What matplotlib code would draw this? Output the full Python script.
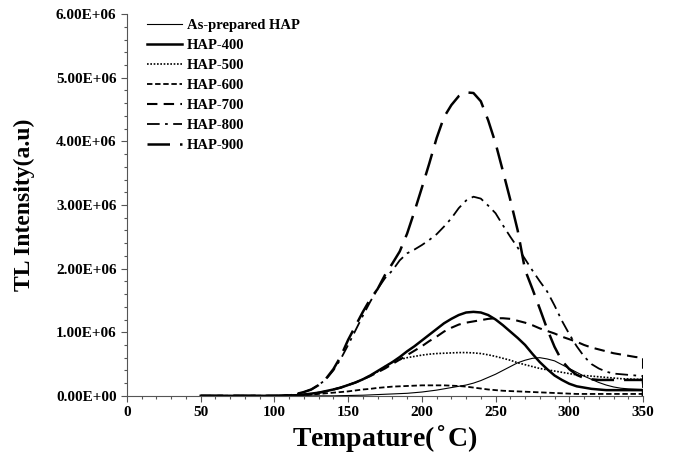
"""TL glow curves of HAP samples annealed at different temperatures."""
import matplotlib
matplotlib.use("Agg")
import matplotlib.pyplot as plt
from matplotlib.ticker import MultipleLocator, FuncFormatter

# temperature grid (deg C); 350 repeated at the end for the drop to zero
temp = [50, 60, 70, 80, 90] + list(range(100, 355, 5)) + [350]

# TL intensity in units of 1e6 a.u.
#               50-90 (x5)       100 ... 350 every 5                               drop
as_prepared = [0, 0, 0, 0, 0,
               0, 0, 0, 0, 0, 0, 0, 0, 0, 0.003,
               0.005, 0.008, 0.01, 0.015, 0.02, 0.025, 0.03, 0.035, 0.04, 0.05,
               0.06, 0.075, 0.09, 0.11, 0.13, 0.15, 0.17, 0.20, 0.24, 0.29,
               0.34, 0.40, 0.46, 0.52, 0.56, 0.59, 0.60, 0.58, 0.55, 0.49,
               0.43, 0.37, 0.31, 0.26, 0.21, 0.17, 0.14, 0.12, 0.11, 0.105,
               0.10,
               0]
hap_400 = [0, 0, 0, 0, 0,
           0, 0, 0.005, 0.01, 0.02, 0.035, 0.05, 0.075, 0.10, 0.13,
           0.17, 0.21, 0.26, 0.32, 0.39, 0.46, 0.53, 0.61, 0.70, 0.78,
           0.87, 0.96, 1.05, 1.14, 1.21, 1.27, 1.31, 1.32, 1.31, 1.27,
           1.20, 1.11, 1.01, 0.91, 0.80, 0.66, 0.53, 0.42, 0.32, 0.25,
           0.19, 0.15, 0.13, 0.11, 0.10, 0.09, 0.09, 0.09, 0.09, 0.09,
           0.09,
           0]
hap_500 = [0, 0, 0, 0, 0,
           0, 0, 0.005, 0.01, 0.02, 0.03, 0.05, 0.07, 0.10, 0.13,
           0.17, 0.21, 0.26, 0.32, 0.38, 0.46, 0.53, 0.57, 0.60, 0.62,
           0.64, 0.655, 0.665, 0.67, 0.675, 0.68, 0.68, 0.675, 0.665, 0.645,
           0.62, 0.59, 0.56, 0.52, 0.49, 0.46, 0.43, 0.41, 0.39, 0.37,
           0.35, 0.33, 0.32, 0.31, 0.30, 0.29, 0.28, 0.27, 0.265, 0.26,
           0.26,
           0]
hap_600 = [0, 0, 0, 0, 0,
           0, 0, 0.002, 0.005, 0.01, 0.02, 0.03, 0.04, 0.05, 0.06,
           0.07, 0.085, 0.10, 0.11, 0.125, 0.135, 0.145, 0.15, 0.155, 0.16,
           0.165, 0.165, 0.165, 0.165, 0.16, 0.155, 0.145, 0.13, 0.115, 0.10,
           0.09, 0.08, 0.075, 0.07, 0.065, 0.06, 0.055, 0.05, 0.045, 0.04,
           0.035, 0.03, 0.03, 0.03, 0.03, 0.03, 0.03, 0.03, 0.03, 0.03,
           0.03,
           0]
hap_700 = [0, 0, 0, 0, 0,
           0, 0, 0.005, 0.01, 0.02, 0.03, 0.05, 0.07, 0.10, 0.13,
           0.17, 0.21, 0.26, 0.31, 0.37, 0.43, 0.50, 0.57, 0.64, 0.71,
           0.78, 0.86, 0.93, 1.01, 1.07, 1.12, 1.15, 1.17, 1.19, 1.21,
           1.22, 1.22, 1.21, 1.18, 1.15, 1.11, 1.06, 1.02, 0.98, 0.93,
           0.89, 0.85, 0.80, 0.76, 0.73, 0.70, 0.67, 0.65, 0.63, 0.61,
           0.60,
           0]
hap_800 = [0, 0, 0, 0, 0,
           0, 0.003, 0.01, 0.03, 0.06, 0.10, 0.17, 0.26, 0.40, 0.58,
           0.80, 1.03, 1.26, 1.48, 1.68, 1.85, 1.97, 2.13, 2.24, 2.30,
           2.37, 2.45, 2.54, 2.66, 2.79, 2.95, 3.07, 3.13, 3.10, 2.99,
           2.87, 2.68, 2.50, 2.33, 2.15, 1.97, 1.80, 1.64, 1.42, 1.18,
           0.97, 0.78, 0.62, 0.50, 0.43, 0.38, 0.35, 0.34, 0.33, 0.32,
           0.31,
           0]
hap_900 = [0, 0, 0, 0, 0,
           0, 0.003, 0.01, 0.03, 0.06, 0.10, 0.17, 0.27, 0.42, 0.62,
           0.88, 1.10, 1.32, 1.52, 1.68, 1.90, 2.08, 2.27, 2.55, 2.90,
           3.27, 3.65, 4.05, 4.38, 4.57, 4.71, 4.77, 4.76, 4.63, 4.33,
           3.97, 3.53, 3.08, 2.60, 1.98, 1.68, 1.37, 1.05, 0.77, 0.55,
           0.42, 0.33, 0.28, 0.26, 0.25, 0.25, 0.25, 0.25, 0.25, 0.25,
           0.25,
           0]

labels = ["As-prepared HAP", "HAP-400", "HAP-500", "HAP-600", "HAP-700",
          "HAP-800", "HAP-900"]
series = [as_prepared, hap_400, hap_500, hap_600, hap_700, hap_800, hap_900]
styles = [("-", 0.8), ("-", 1.8), ((0, (1, 1)), 1.2), ((0, (3, 1.5)), 1.3),
          ((0, (5, 3)), 1.5), ((0, (7, 3, 1.5, 3)), 1.3), ((0, (9, 4)), 1.8)]

plt.rcParams["font.family"] = "Liberation Serif"
plt.rcParams["font.weight"] = "bold"

fig = plt.figure(figsize=(6.79, 4.55), dpi=100)
ax = fig.add_axes([0.187, 0.130, 0.760, 0.839])

for vals, lab, (ls, lw) in zip(series, labels, styles):
    ax.plot(temp, [v * 1e6 for v in vals], color="black", linestyle=ls,
            linewidth=lw, label=lab)

ax.set_xlim(0, 350)
ax.set_ylim(0, 6e6)
ax.xaxis.set_major_locator(MultipleLocator(50))
ax.xaxis.set_minor_locator(MultipleLocator(10))
ax.yaxis.set_major_locator(MultipleLocator(1e6))
ax.yaxis.set_minor_locator(MultipleLocator(2e5))
ax.yaxis.set_major_formatter(FuncFormatter(lambda v, p: "%.2E" % v))
ax.tick_params(which="major", length=4, width=0.8, color="#555555",
               labelsize=11, pad=3.5)
ax.tick_params(which="minor", length=2.5, width=0.8, color="#555555")
for lab in ax.get_xticklabels() + ax.get_yticklabels():
    lab.set_fontweight("bold")

for s in ["top", "right"]:
    ax.spines[s].set_visible(False)
for s in ["left", "bottom"]:
    ax.spines[s].set_color("#555555")
    ax.spines[s].set_linewidth(0.8)

ax.set_xlabel("Tempature($^{\\circ}$C)", fontsize=20, fontweight="bold",
              labelpad=3)
ax.set_ylabel("TL Intensity(a.u)", fontsize=17, fontweight="bold",
              labelpad=15)

ax.legend(loc="upper left", bbox_to_anchor=(0.014, 1.022), frameon=False,
          handlelength=2.4, handletextpad=0.3, labelspacing=0.47,
          prop={"weight": "bold", "size": 10.5})

fig.savefig("out.png", dpi=100)
